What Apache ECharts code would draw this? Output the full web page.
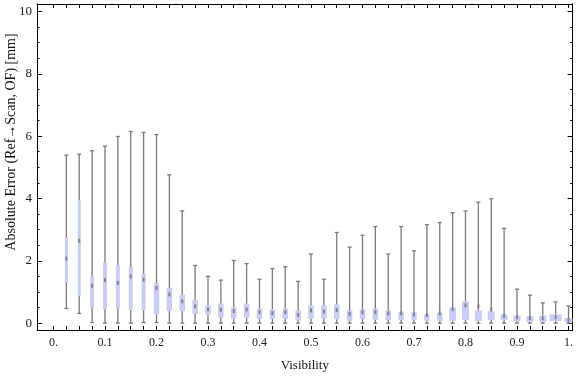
<!DOCTYPE html>
<html>
<head>
<meta charset="utf-8">
<script src="https://cdn.jsdelivr.net/npm/echarts@6/dist/echarts.min.js"></script>
<style>
  html, body { margin: 0; padding: 0; background: #fff; }
  #chart { width: 576px; height: 377px; }
</style>
</head>
<body>
<div id="chart"></div>
<script>
// visibility bins
const visibility = [
  0.025, 0.05, 0.075, 0.1, 0.125, 0.15, 0.175, 0.2, 0.225, 0.25,
  0.275, 0.3, 0.325, 0.35, 0.375, 0.4, 0.425, 0.45, 0.475, 0.5,
  0.525, 0.55, 0.575, 0.6, 0.625, 0.65, 0.675, 0.7, 0.725, 0.75,
  0.775, 0.8, 0.825, 0.85, 0.875, 0.9, 0.925, 0.95, 0.975, 1.0
];
const whiskerHigh = [
  5.39, 5.42, 5.53, 5.68, 5.99, 6.15, 6.12, 6.05, 4.76, 3.60,
  1.85, 1.50, 1.38, 2.01, 1.91, 1.41, 1.75, 1.81, 1.34, 2.22,
  1.41, 2.91, 2.44, 2.82, 3.10, 2.22, 3.10, 2.32, 3.16, 3.23,
  3.54, 3.60, 3.88, 3.99, 3.04, 1.09, 0.90, 0.65, 0.68, 0.55
];
const upperQuartile = [
  2.75, 3.96, 1.49, 1.94, 1.87, 1.81, 1.59, 1.29, 1.13, 0.91,
  0.75, 0.57, 0.63, 0.50, 0.63, 0.47, 0.44, 0.47, 0.41, 0.57,
  0.57, 0.60, 0.41, 0.44, 0.47, 0.41, 0.35, 0.35, 0.28, 0.33,
  0.50, 0.69, 0.41, 0.38, 0.28, 0.25, 0.22, 0.25, 0.28, 0.16
];
const centre = [
  2.07, 2.64, 1.20, 1.38, 1.29, 1.50, 1.39, 1.13, 0.92, 0.70,
  0.54, 0.44, 0.43, 0.39, 0.44, 0.35, 0.32, 0.35, 0.26, 0.41,
  0.37, 0.42, 0.30, 0.35, 0.35, 0.31, 0.31, 0.28, 0.26, 0.31,
  0.45, 0.57, 0.54, 0.44, 0.23, 0.19, 0.16, 0.16, 0.19, 0.10
];
const lowerQuartile = [
  1.31, 0.87, 0.50, 0.45, 0.48, 0.42, 0.41, 0.29, 0.39, 0.39,
  0.29, 0.26, 0.18, 0.14, 0.17, 0.14, 0.14, 0.14, 0.08, 0.14,
  0.14, 0.12, 0.07, 0.14, 0.10, 0.10, 0.10, 0.10, 0.07, 0.07,
  0.07, 0.10, 0.07, 0.10, 0.10, 0.07, 0.04, 0.04, 0.07, 0.04
];
const whiskerLow = [
  0.47, 0.31, 0.02, 0.00, 0.00, 0.00, 0.02, 0.02, 0.00, 0.00,
  0.00, 0.00, 0.00, 0.00, 0.00, 0.00, 0.00, 0.00, 0.00, 0.00,
  0.00, 0.00, 0.00, 0.00, 0.00, 0.00, 0.00, 0.00, 0.00, 0.00,
  0.00, 0.00, 0.00, 0.00, 0.00, 0.00, 0.00, 0.00, 0.00, 0.00
];

const xLabels = [0, 0.1, 0.2, 0.3, 0.4, 0.5, 0.6, 0.7, 0.8, 0.9, 1];
const yLabels = [0, 2, 4, 6, 8, 10];

const xTicks = [];
for (let i = 0; i <= 40; i++) xTicks.push(i / 40);
const yMinorTicks = [];
for (let i = 0; i <= 20; i++) yMinorTicks.push(i / 2);

const boxData = visibility.map((v, i) => [
  v, whiskerLow[i], lowerQuartile[i], centre[i], upperQuartile[i], whiskerHigh[i]
]);

const font = "Liberation Serif";
const axisColor = "#000";

// box width grows a little along the axis, like the original
function boxWidth(i) {
  if (i === 38) return 12;
  if (i === 39) return 8;
  if (i < 2) return 3;
  if (i < 7) return 4;
  if (i < 30) return 5.5;
  return 7;
}

function renderBox(params, api) {
  const x = api.value(0);
  const lo = api.coord([x, api.value(1)]);
  const q1 = api.coord([x, api.value(2)]);
  const md = api.coord([x, api.value(3)]);
  const q3 = api.coord([x, api.value(4)]);
  const hi = api.coord([x, api.value(5)]);
  const cx = lo[0];
  const w = boxWidth(params.dataIndex);
  const whisker = { stroke: "#7a7a7a", lineWidth: 1.3 };
  return {
    type: "group",
    children: [
      { type: "line", shape: { x1: cx, y1: hi[1], x2: cx, y2: lo[1] }, style: whisker },
      { type: "line", shape: { x1: cx - 2, y1: hi[1], x2: cx + 2, y2: hi[1] }, style: whisker },
      { type: "line", shape: { x1: cx - 2, y1: lo[1], x2: cx + 2, y2: lo[1] }, style: whisker },
      {
        type: "rect",
        shape: { x: cx - w / 2, y: q3[1], width: w, height: q1[1] - q3[1] },
        style: { fill: "#c9cdf3" }
      },
      {
        type: "rect",
        shape: { x: cx - 1, y: md[1] - 2, width: 2, height: 4 },
        style: { fill: "rgba(105,105,115,0.75)" }
      }
    ]
  };
}

const chart = echarts.init(document.getElementById("chart"), null, { renderer: "canvas" });

const baseX = {
  type: "value",
  min: -0.032,
  max: 1.008,
  splitLine: { show: false },
  axisLine: { show: true, onZero: false, lineStyle: { color: axisColor, width: 1 } },
  axisTick: { show: true, inside: true, length: 4, customValues: xTicks, lineStyle: { color: axisColor } }
};
const baseY = {
  type: "value",
  min: -0.22,
  max: 10.24,
  splitLine: { show: false },
  axisLine: { show: true, onZero: false, lineStyle: { color: axisColor, width: 1 } }
};

chart.setOption({
  animation: false,
  backgroundColor: "#fff",
  grid: { left: 37, right: 2, top: 4, bottom: 40, containLabel: false },
  xAxis: [
    Object.assign({}, baseX, {
      position: "bottom",
      name: "Visibility",
      nameLocation: "middle",
      nameGap: 29,
      nameTextStyle: { fontFamily: font, fontSize: 13, color: "#111" },
      axisLabel: {
        customValues: xLabels,
        margin: 7,
        fontFamily: font,
        fontSize: 12,
        color: "#222",
        formatter: (v) => (v === 0 ? "0." : v === 1 ? "1." : v.toFixed(1))
      }
    }),
    Object.assign({}, baseX, {
      position: "top",
      axisLabel: { show: false }
    })
  ],
  yAxis: [
    Object.assign({}, baseY, {
      position: "left",
      axisTick: { show: true, inside: true, length: 5, customValues: yLabels, lineStyle: { color: axisColor } },
      axisLabel: {
        customValues: yLabels,
        margin: 5,
        fontFamily: font,
        fontSize: 13,
        color: "#222"
      }
    }),
    Object.assign({}, baseY, {
      position: "left",
      axisTick: { show: true, inside: true, length: 2.5, customValues: yMinorTicks, lineStyle: { color: axisColor } },
      axisLabel: { show: false }
    }),
    Object.assign({}, baseY, {
      position: "right",
      axisTick: { show: true, inside: true, length: 5, customValues: yLabels, lineStyle: { color: axisColor } },
      axisLabel: { show: false }
    }),
    Object.assign({}, baseY, {
      position: "right",
      axisTick: { show: true, inside: true, length: 2.5, customValues: yMinorTicks, lineStyle: { color: axisColor } },
      axisLabel: { show: false }
    })
  ],
  graphic: [
    {
      type: "text",
      x: 11,
      y: 142,
      rotation: Math.PI / 2,
      style: {
        text: "Absolute Error (Ref\u2192Scan, OF) [mm]",
        font: "14px 'Liberation Serif'",
        fill: "#111",
        align: "center",
        verticalAlign: "middle"
      }
    }
  ],
  series: [
    {
      type: "custom",
      xAxisIndex: 0,
      yAxisIndex: 0,
      renderItem: renderBox,
      encode: { x: 0, y: [1, 2, 3, 4, 5] },
      data: boxData,
      clip: false
    }
  ]
});
</script>
</body>
</html>
